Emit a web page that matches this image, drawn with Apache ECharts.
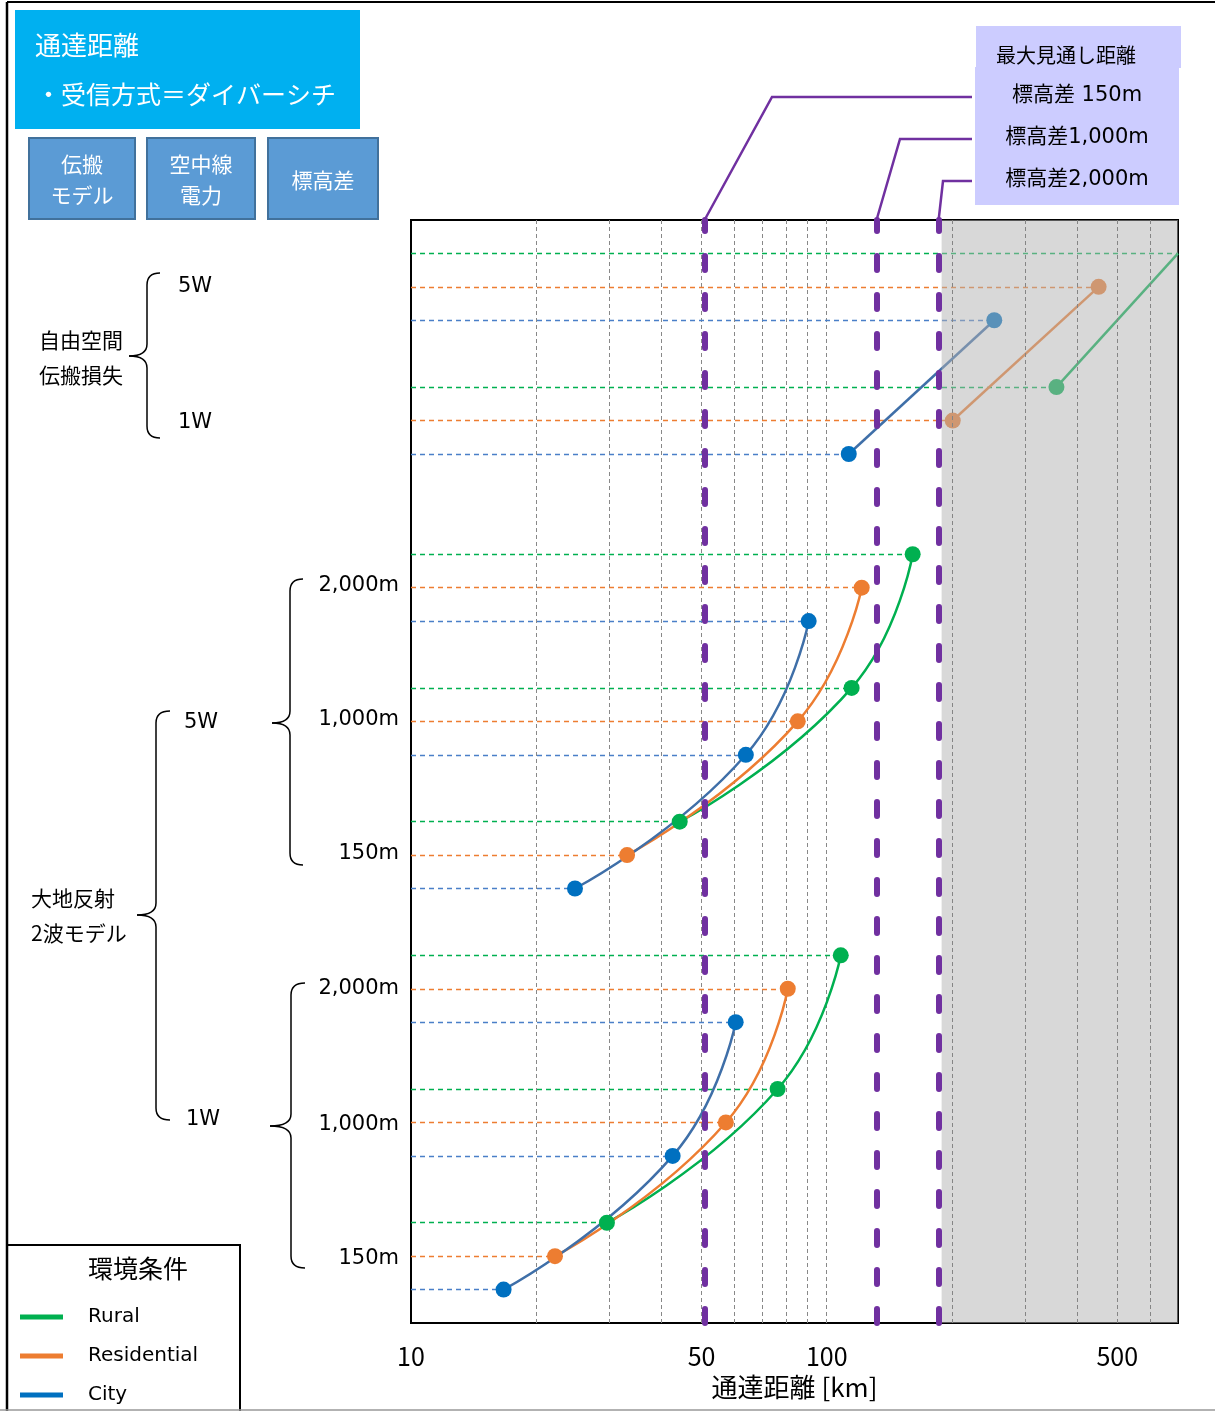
<!DOCTYPE html>
<html lang="ja">
<head>
<meta charset="utf-8">
<title>通達距離</title>
<script src="https://cdn.jsdelivr.net/npm/echarts@6/dist/echarts.min.js"></script>
<style>
  html, body { margin: 0; padding: 0; background: #fff; }
  #chart { width: 1215px; height: 1411px; }
</style>
</head>
<body>
<div id="chart"></div>
<script>
  // 環境条件
  var seriesNames = ['Rural', 'Residential', 'City'];

  // 自由空間伝搬損失 [1W, 5W] : 通達距離 km / 行位置
  var freeDist = [[357, 700], [201, 451], [113, 253]];
  var freeRows = [[28, 32], [27, 31], [26, 30]];

  // 大地反射2波モデル 5W [150m, 1,000m, 2,000m]
  var twoRay5wDist = [[44.3, 114.8, 161], [33.1, 85.2, 121.4], [24.8, 63.9, 90.5]];
  var twoRay5wRows = [[15, 19, 23], [14, 18, 22], [13, 17, 21]];

  // 大地反射2波モデル 1W [150m, 1,000m, 2,000m]
  var twoRay1wDist = [[29.6, 76.2, 108.1], [22.2, 57.2, 80.6], [16.7, 42.6, 60.4]];
  var twoRay1wRows = [[3, 7, 11], [2, 6, 10], [1, 5, 9]];

  // 最大見通し距離
  var losDist = [51, 132, 186];
  var losLabels = ['標高差 150m', '標高差1,000m', '標高差2,000m'];

  // 軸
  var gridTicks = [20, 30, 40, 50, 60, 70, 80, 90, 100, 200, 300, 400, 500, 600];
  var xLabels = [10, 50, 100, 500];
  var xMin = 10, xMax = 700, rowMax = 33;
  var shadeFrom = 189;

  var markerColors = ['#00B050', '#ED7D31', '#0070C0'];
  var lineColors = ['#00B050', '#ED7D31', '#3F6FA8'];
  var guideColors = ['#00B050', '#ED7D31', '#4A7FC8'];
  var JP = "'Noto Sans CJK JP', sans-serif";
  var MIX = "'DejaVu Sans', 'Noto Sans CJK JP', sans-serif";

  var chart = echarts.init(document.getElementById('chart'));

  function zipPts(dist, rows) {
    return dist.map(function (d, k) {
      var item = { value: [d, rows[k]] };
      if (d >= xMax) item.symbolSize = 0;
      return item;
    });
  }

  var groups = [
    { dist: freeDist, rows: freeRows, smooth: false },
    { dist: twoRay5wDist, rows: twoRay5wRows, smooth: 0.5 },
    { dist: twoRay1wDist, rows: twoRay1wRows, smooth: 0.5 }
  ];

  var series = [];
  groups.forEach(function (g) {
    seriesNames.forEach(function (name, i) {
      var pts = zipPts(g.dist[i], g.rows[i]);
      series.push({
        name: name,
        type: 'line',
        z: 3,
        smooth: g.smooth,
        data: pts,
        symbol: 'circle',
        symbolSize: 16,
        lineStyle: { color: lineColors[i], width: 2.5 },
        itemStyle: { color: markerColors[i] },
        markLine: {
          silent: true, z: 2, symbol: 'none', label: { show: false },
          lineStyle: { color: guideColors[i], type: [5, 4], width: 1.3 },
          data: pts.map(function (p) {
            return [{ coord: [xMin, p.value[1]] }, { coord: [p.value[0], p.value[1]] }];
          })
        }
      });
    });
  });

  // 目盛線（白い領域）
  series.push({
    type: 'line', data: [],
    markLine: {
      silent: true, z: 1, symbol: 'none', label: { show: false },
      lineStyle: { color: '#888', type: [4, 3], width: 1 },
      data: gridTicks.filter(function (v) { return v < shadeFrom; }).map(function (v) { return { xAxis: v }; })
    }
  });
  // 見通し外の網掛け
  series.push({
    type: 'line', data: [],
    markArea: {
      silent: true, z: 4,
      itemStyle: { color: 'rgba(178,178,178,0.5)' },
      data: [[{ xAxis: shadeFrom }, { xAxis: xMax }]]
    }
  });
  // 目盛線（網掛け領域）
  series.push({
    type: 'line', data: [],
    markLine: {
      silent: true, z: 5, symbol: 'none', label: { show: false },
      lineStyle: { color: '#858585', type: [4, 3], width: 1 },
      data: gridTicks.filter(function (v) { return v > shadeFrom; }).map(function (v) { return { xAxis: v }; })
    }
  });
  // 最大見通し距離
  series.push({
    type: 'line', data: [],
    markLine: {
      silent: true, z: 6, symbol: 'none', label: { show: false },
      lineStyle: { color: '#7030A0', type: [14, 25], width: 6, cap: 'round' },
      data: losDist.map(function (v) { return { xAxis: v }; })
    }
  });

  chart.setOption({
    animation: false,
    backgroundColor: '#fff',
    grid: {
      left: 411, right: 37, top: 220, bottom: 88,
      show: true, borderColor: '#000', borderWidth: 2, backgroundColor: 'transparent',
      outerBoundsMode: 'none'
    },
    legend: {
      data: seriesNames,
      orient: 'vertical',
      left: 15, top: 1301,
      icon: 'rect', itemWidth: 43, itemHeight: 5, itemGap: 17,
      selectedMode: false,
      textStyle: { fontSize: 20, lineHeight: 22, color: '#000', fontFamily: MIX, padding: [0, 0, 0, 20] }
    },
    xAxis: {
      type: 'log', logBase: 10, min: xMin, max: xMax,
      axisLine: { show: false }, axisTick: { show: false }, splitLine: { show: false },
      axisLabel: { customValues: xLabels, fontSize: 25, color: '#000', fontFamily: JP, margin: 21 },
      name: '通達距離 [km]', nameLocation: 'middle', nameGap: 51, nameMoveOverlap: false,
      nameTextStyle: { fontSize: 26, color: '#000', fontFamily: JP }
    },
    yAxis: { type: 'value', min: 0, max: rowMax, show: false },
    series: series
  });

  // 注記
  function txt(text, x, y, size, opts) {
    opts = opts || {};
    return {
      type: 'text', z: 20,
      style: {
        text: text, x: x, y: y,
        fill: opts.fill || '#000',
        font: size + 'px ' + (opts.family || MIX),
        align: opts.align || 'left', textAlign: opts.align || 'left',
        verticalAlign: 'middle', textVerticalAlign: 'middle',
        lineHeight: opts.lineHeight
      }
    };
  }
  function seg(x1, y1, x2, y2) {
    return { type: 'line', z: 20, shape: { x1: x1, y1: y1, x2: x2, y2: y2 }, style: { stroke: '#000', lineWidth: 1.5 } };
  }
  function curve(x1, y1, cx, cy, x2, y2) {
    return { type: 'bezierCurve', z: 20, shape: { x1: x1, y1: y1, cpx1: cx, cpy1: cy, x2: x2, y2: y2 },
      style: { fill: null, stroke: '#000', lineWidth: 1.5 } };
  }
  // 波括弧
  function brace(list, xEnd, xV, xTip, y1, yM, y2) {
    var r = 12;
    list.push(curve(xEnd, y1, xV, y1, xV, y1 + r));
    list.push(seg(xV, y1 + r, xV, yM - r));
    list.push(curve(xV, yM - r, xV, yM, xTip, yM));
    list.push(curve(xTip, yM, xV, yM, xV, yM + r));
    list.push(seg(xV, yM + r, xV, y2 - r));
    list.push(curve(xV, y2 - r, xV, y2, xEnd, y2));
  }

  var g = [];
  // 外枠
  g.push({ type: 'line', z: 20, shape: { x1: 7, y1: 2, x2: 1215, y2: 2 }, style: { stroke: '#000', lineWidth: 2 } });
  g.push({ type: 'line', z: 20, shape: { x1: 7, y1: 2, x2: 7, y2: 1411 }, style: { stroke: '#000', lineWidth: 2.5 } });
  g.push({ type: 'line', z: 20, shape: { x1: 0, y1: 1410, x2: 1215, y2: 1410 }, style: { stroke: '#999', lineWidth: 1.5 } });

  // タイトル
  g.push({ type: 'rect', z: 19, shape: { x: 15, y: 10, width: 345, height: 119 }, style: { fill: '#00B0F0' } });
  g.push(txt('通達距離', 35, 45, 26, { fill: '#fff', family: JP }));
  g.push(txt('・受信方式＝ダイバーシチ', 36, 94, 25, { fill: '#fff', family: JP }));

  // 見出しボックス
  var heads = [
    { x: 29, w: 106, t: '伝搬\nモデル' },
    { x: 147, w: 108, t: '空中線\n電力' },
    { x: 268, w: 110, t: '標高差' }
  ];
  heads.forEach(function (h) {
    g.push({ type: 'rect', z: 19, shape: { x: h.x, y: 138, width: h.w, height: 81 },
      style: { fill: '#5B9BD5', stroke: '#41719C', lineWidth: 2 } });
    g.push(txt(h.t, h.x + h.w / 2, 180, 21, { fill: '#fff', family: JP, align: 'center', lineHeight: 31 }));
  });

  // 自由空間伝搬損失
  brace(g, 160, 147, 129, 273, 356, 438);
  g.push(txt('自由空間', 39, 340, 21, { family: JP }));
  g.push(txt('伝搬損失', 39, 375, 21, { family: JP }));
  g.push(txt('5W', 178, 287, 21));
  g.push(txt('1W', 178, 423, 21));

  // 大地反射2波モデル
  brace(g, 170, 156, 137, 711, 915, 1120);
  g.push(txt('大地反射', 31, 898, 21, { family: JP }));
  g.push(txt('2波モデル', 31, 933, 21, { family: JP }));
  g.push(txt('5W', 184, 723, 21));
  g.push(txt('1W', 186, 1120, 21));
  brace(g, 303, 290, 272, 579, 723, 865);
  brace(g, 305, 291, 270, 983, 1126, 1268);
  [[586, '2,000m'], [720, '1,000m'], [854, '150m'], [989, '2,000m'], [1125, '1,000m'], [1259, '150m']].forEach(function (l) {
    g.push(txt(l[1], 399, l[0], 21, { align: 'right' }));
  });

  // 最大見通し距離ボックス
  g.push({ type: 'rect', z: 19, shape: { x: 976, y: 26, width: 205, height: 42 }, style: { fill: '#CCCCFF' } });
  g.push({ type: 'rect', z: 19, shape: { x: 975, y: 67, width: 204, height: 138 }, style: { fill: '#CCCCFF' } });
  g.push(txt('最大見通し距離', 1066, 55, 20, { family: JP, align: 'center' }));
  var labelY = [97, 139, 181];
  var elbowX = [772, 900, 943];
  losDist.forEach(function (v, i) {
    g.push(txt(losLabels[i], 1077, labelY[i] - 1, 21, { align: 'center' }));
    var p = chart.convertToPixel({ gridIndex: 0 }, [v, rowMax]);
    g.push({ type: 'polyline', z: 20,
      shape: { points: [[p[0], p[1] - 1], [elbowX[i], labelY[i]], [972, labelY[i]]] },
      style: { fill: null, stroke: '#7030A0', lineWidth: 2.5 } });
  });

  // 凡例枠
  g.push({ type: 'rect', z: 1, shape: { x: 7, y: 1245, width: 233, height: 180 }, style: { fill: '#fff', stroke: '#000', lineWidth: 2 } });
  g.push(txt('環境条件', 138, 1268, 25, { family: JP, align: 'center' }));

  chart.setOption({ graphic: g });
</script>
</body>
</html>
